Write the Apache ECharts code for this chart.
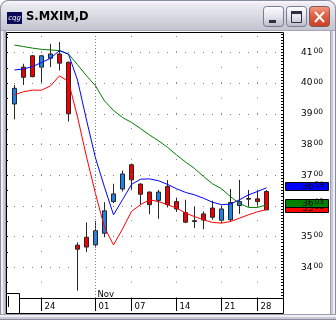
<!DOCTYPE html>
<html><head><meta charset="utf-8">
<script src="https://cdn.jsdelivr.net/npm/echarts@6/dist/echarts.min.js"></script>
<style>html,body{margin:0;padding:0;background:#fff}#c{width:336px;height:320px}</style>
</head><body><div id="c"></div>
<script>
// ---------- data ----------
const windowTitle = 'S.MXIM,D';
const categories = ['21','22','23','24','25','28','29','30','31','01','04','05','06','07','08','11','12','13','14','15','18','19','20','21','22','25','26','28','29',''];
const months = ['Oct','Oct','Oct','Oct','Oct','Oct','Oct','Oct','Oct','Nov','Nov','Nov','Nov','Nov','Nov','Nov','Nov','Nov','Nov','Nov','Nov','Nov','Nov','Nov','Nov','Nov','Nov','Nov','Nov',''];
const labelIdx = [3, 9, 13, 18, 23, 27];
const opens  = [3932,4052,4089,4052,4081,4095,4068,3472,3498,3473,3511,3614,3655,3734,3671,3645,3618,3663,3614,3578,3552,3574,3593,3553,3555,3601,3624,3623,3647];
const closes = [3983,4019,4021,4089,4095,4065,3900,3459,3466,3519,3584,3639,3704,3685,3638,3604,3645,3604,3590,3547,3549,3554,3563,3590,3611,3614,3622,3614,3587];
const lows   = [3882,3994,4019,4000,4052,4041,3875,3324,3450,3464,3498,3609,3647,3652,3604,3573,3558,3595,3580,3544,3528,3524,3555,3544,3549,3574,3598,3598,3587];
const highs  = [3994,4063,4092,4091,4128,4134,4070,3481,3546,3551,3612,3672,3715,3738,3674,3647,3652,3684,3627,3620,3598,3582,3617,3600,3655,3685,3652,3652,3652];
const maBlue  = [4043,4046,4054,4067,4081,4106,4094,4010,3880,3756,3661,3571,3620,3670,3687,3688,3682,3670,3656,3644,3636,3625,3612,3604,3606,3620,3636,3647,3659];
const maGreen = [4124,4119,4114,4110,4108,4106,4095,4060,4024,3991,3942,3911,3888,3872,3852,3831,3812,3791,3766,3743,3722,3696,3672,3656,3630,3608,3595,3595,3603];
const maRed   = [3962,3972,3977,3977,3991,4024,4005,3890,3760,3640,3530,3473,3525,3582,3604,3620,3614,3604,3593,3577,3565,3555,3546,3544,3549,3560,3571,3581,3588];
const yMin = 3300, yMax = 4160;

// ---------- chart ----------
const FONT = 'DejaVu Sans';
const chart = echarts.init(document.getElementById('c'), null, {renderer: 'canvas'});
const candles = opens.map((o, i) => [o, closes[i], lows[i], highs[i]]);
const showTick = (i) => labelIdx.indexOf(i) >= 0;
const monthStarts = months.map((m, i) => (i > 0 && m && m !== months[i - 1]) ? i : -1).filter(i => i >= 0);
const gridCols = labelIdx.filter(i => monthStarts.indexOf(i) < 0);
const split2 = (v) => { const s = String(v); return '{a|' + s.slice(0, 2) + '}{b|' + s.slice(2) + '}'; };
const priceRich = (color) => ({
  a: {fontFamily: FONT, fontSize: 9, color: color},
  b: {fontFamily: FONT, fontSize: 7.5, color: color, padding: [0, 0, 3, 1]}
});
const noAxisPart = {show: false};

chart.setOption({
  animation: false,
  grid: {left: 10, right: 56, top: 34, height: 264, containLabel: false, outerBoundsMode: 'none'},
  xAxis: [
    {type: 'category', data: categories, boundaryGap: true, position: 'bottom',
     axisLine: noAxisPart,
     axisTick: {show: true, alignWithLabel: true, interval: (i) => showTick(i), length: 13, lineStyle: {color: '#000', width: 1}},
     axisLabel: {interval: (i) => showTick(i), align: 'left', padding: [0, 0, 0, 3], margin: 4, color: '#000', fontFamily: FONT, fontSize: 8.5},
     splitLine: noAxisPart},
    {type: 'category', data: months, boundaryGap: true, position: 'bottom',
     axisLine: noAxisPart, axisTick: noAxisPart, splitLine: noAxisPart,
     axisLabel: {inside: true, interval: (i) => monthStarts.indexOf(i) >= 0, align: 'left', padding: [0, 0, 0, 2], margin: -1, color: '#000', fontFamily: FONT, fontSize: 8.5}}
  ],
  yAxis: [
    {type: 'value', position: 'right', offset: 3, min: yMin, max: yMax, interval: 100,
     axisLine: {show: true, lineStyle: {color: '#000', width: 1}},
     axisTick: noAxisPart,
     axisLabel: {margin: 18, align: 'left', color: '#000',
       formatter: (v) => (v % 100 === 0 && v > yMin) ? split2(v) : '',
       rich: priceRich('#000')},
     splitLine: {show: true, showMinLine: false, showMaxLine: false,
       lineStyle: {color: '#808080', width: 1, type: [1, 8], dashOffset: 5}}},
    {type: 'value', position: 'right', offset: 3, min: yMin, max: yMax, interval: 10,
     axisLine: noAxisPart, axisLabel: noAxisPart, splitLine: noAxisPart,
     axisTick: {show: true, inside: true, length: 2, lineStyle: {color: '#000'}}},
    {type: 'value', position: 'left', offset: 4, min: yMin, max: yMax, interval: 50,
     axisLine: noAxisPart, axisLabel: noAxisPart, splitLine: noAxisPart,
     axisTick: {show: true, inside: true, length: 2, lineStyle: {color: '#000'}}}
  ],
  series: [
    {type: 'line', data: [], z: 1, silent: true,
     markLine: {silent: true, symbol: ['none', 'none'], animation: false, label: {show: false},
       emphasis: {disabled: true},
       lineStyle: {color: '#808080', width: 1, type: [1, 14.35]},
       data: gridCols.map(i => ({xAxis: i})).concat(
             monthStarts.map(i => ({xAxis: i, lineStyle: {color: '#808080', width: 1, type: [1, 2]}})))}},
    {type: 'candlestick', data: candles, barWidth: 4, z: 2, silent: true,
     itemStyle: {color: '#1f80e8', color0: '#f00000', borderColor: '#262626', borderColor0: '#262626', borderWidth: 1}},
    {type: 'line', data: maGreen, symbol: 'none', z: 3, silent: true, lineStyle: {color: '#008000', width: 1}},
    {type: 'line', data: maRed, symbol: 'none', z: 3, silent: true, lineStyle: {color: '#ff0000', width: 1}},
    {type: 'line', data: maBlue, symbol: 'none', z: 3, silent: true, lineStyle: {color: '#0000ff', width: 1}}
  ]
});

// ---------- window chrome + price tags ----------
const G = echarts.graphic;
const vgrad = (stops) => new G.LinearGradient(0, 0, 0, 1, stops.map(s => ({offset: s[0], color: s[1]})));
const R = (x, y, w, h, fill, z, extra) => Object.assign({type: 'rect', z: z, silent: true, shape: {x: x, y: y, width: w, height: h}, style: {fill: fill}}, extra || {});
const L = (x1, y1, x2, y2, stroke, z, w) => ({type: 'line', z: z, silent: true, shape: {x1: x1, y1: y1, x2: x2, y2: y2}, style: {stroke: stroke, lineWidth: w || 1}});
const T = (x, y, text, opts, z) => ({type: 'text', z: z, silent: true, style: Object.assign({x: x, y: y, text: text, textAlign: 'left', align: 'left', textVerticalAlign: 'middle', verticalAlign: 'middle'}, opts)});

const els = [];
els.push({type: 'rect', z: -30, silent: true, shape: {x: 0, y: 0, width: 336, height: 320, r: [8, 8, 0, 0]}, style: {fill: '#c9c9d5'}});
els.push({type: 'rect', z: -29, silent: true, shape: {x: 0.5, y: 0.5, width: 335, height: 30, r: [8, 8, 0, 0]},
  style: {fill: vgrad([[0, '#ffffff'], [0.12, '#ececf2'], [0.5, '#dadae2'], [1, '#c3c3cf']]), stroke: '#8a8aa0', lineWidth: 1}});
els.push(R(6, 31, 324, 283, '#ffffff', -28));
// frame stripes
[[0, '#8a8aa0', 1], [1, '#eeeef3', 2], [3, '#c9c9d5', 2], [5, '#9d9db0', 1]].forEach(s => {
  els.push(R(s[0], 30, s[2], 290, s[1], -27));
  els.push(R(335 - s[0] - s[2] + 1, 30, s[2], 290, s[1], -27));
});
[[314, '#9d9db0', 1], [315, '#eeeef3', 2], [317, '#c9c9d5', 2], [319, '#8a8aa0', 1]].forEach(s => {
  els.push(R(0, s[0], 336, s[2], s[1], -26));
});
els.push(R(1, 30, 334, 1, '#a6a6b8', -26));
// icon + title
els.push(R(7, 12, 15, 12, '#0b0b55', 10));
els.push(T(14.5, 18, 'cqg', {fill: '#ffffff', fontSize: 7, fontFamily: FONT, fontStyle: 'italic', textAlign: 'center', align: 'center'}, 11));
els.push(T(26, 17.5, windowTitle, {fill: '#000000', fontSize: 11.5, fontWeight: 'bold', fontFamily: FONT}, 10));
// buttons
const silverBtn = vgrad([[0, '#ffffff'], [0.5, '#e4e4ec'], [1, '#b8b8c8']]);
[263.5, 286.5].forEach(x => els.push({type: 'rect', z: 10, silent: true, shape: {x: x, y: 6.5, width: 20, height: 20, r: 3}, style: {fill: silverBtn, stroke: '#7a7a94', lineWidth: 1}}));
els.push({type: 'rect', z: 10, silent: true, shape: {x: 309.5, y: 6.5, width: 20, height: 20, r: 3},
  style: {fill: vgrad([[0, '#f4a08a'], [0.4, '#e2664a'], [1, '#c83c22']]), stroke: '#7a5a5a', lineWidth: 1}});
els.push(R(269, 20, 7, 3, '#2e2e40', 11));
els.push(R(291, 11, 11, 3, '#2e2e40', 11));
els.push({type: 'rect', z: 11, silent: true, shape: {x: 291.5, y: 11.5, width: 10, height: 11}, style: {fill: null, stroke: '#2e2e40', lineWidth: 1}});
els.push(L(315, 12, 324, 22, '#ffffff', 11, 2));
els.push(L(324, 12, 315, 22, '#ffffff', 11, 2));
// chart frame
els.push({type: 'rect', z: 50, silent: true, shape: {x: 6.5, y: 32.5, width: 277, height: 281}, style: {fill: null, stroke: '#000', lineWidth: 1}});
els.push(L(6.5, 298.5, 283.5, 298.5, '#000', 50));
els.push({type: 'rect', z: 55, silent: true, shape: {x: 6.5, y: 293.5, width: 13, height: 20}, style: {fill: '#ffffff', stroke: '#000', lineWidth: 1}});
els.push(L(8.5, 296, 8.5, 307, '#000', 56));
// price tags at last values of the three averages
const tags = [[maRed[maRed.length - 1], '#ff0000'], [maGreen[maGreen.length - 1], '#008000'], [maBlue[maBlue.length - 1], '#0000ff']];
tags.forEach((t, k) => {
  const py = Math.round(chart.convertToPixel({yAxisIndex: 0}, t[0]));
  els.push({type: 'rect', z: 100 + k * 2, silent: true, shape: {x: 285.5, y: py - 5.5, width: 43, height: 8}, style: {fill: t[1], stroke: '#000', lineWidth: 1}});
  els.push({type: 'text', z: 101 + k * 2, silent: true, style: {x: 302, y: py - 1.5, text: split2(t[0]), rich: priceRich('#ffffff'),
    textAlign: 'left', align: 'left', textVerticalAlign: 'middle', verticalAlign: 'middle'}});
});
chart.setOption({graphic: els});
</script></body></html>
